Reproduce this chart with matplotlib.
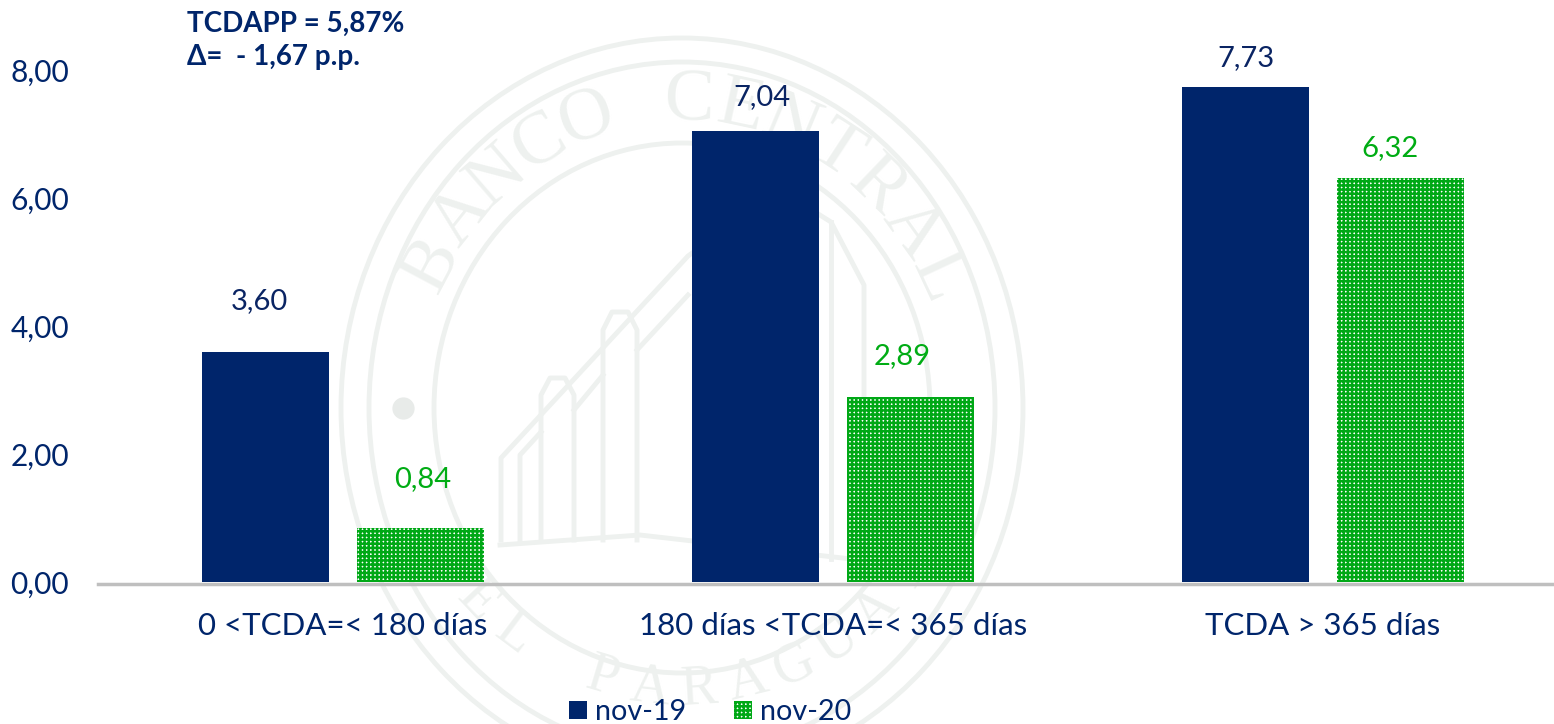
"""
plot.py — Tasa de captación por plazo (TCDA), nov-19 vs nov-20
Run:  python plot.py
"""

import numpy as np
import matplotlib
matplotlib.use('Agg')
import matplotlib.pyplot as plt
from matplotlib.patches import Ellipse, Patch

plt.rcParams['font.family'] = ['Lato', 'DejaVu Sans']
plt.rcParams['hatch.linewidth'] = 1.8

# ── Data ─────────────────────────────────────────────────────────────────────
categories = ['0 <TCDA=< 180 días', '180 días <TCDA=< 365 días', 'TCDA > 365 días']
nov_19 = [3.60, 7.04, 7.73]
nov_20 = [0.84, 2.89, 6.32]
series_names = ['nov-19', 'nov-20']
y_ticks = [0, 2, 4, 6, 8]

NAVY = '#00256B'
GREEN = '#00A816'
LABEL_GREEN = '#00AC14'
MARK = '#EEF1EF'

W, H = 1554, 724
fig = plt.figure(figsize=(W / 100, H / 100), dpi=100)

# ── Watermark (seal), pixel coordinates of the image ─────────────────────────
bg = fig.add_axes([0, 0, 1, 1], zorder=0)
bg.set_xlim(0, W)
bg.set_ylim(H, 0)
bg.axis('off')

cx, cy = 682, 408
for rx, ry, lw in [(341, 370, 3.5), (313, 346, 3.5), (248, 265, 3.5)]:
    bg.add_patch(Ellipse((cx, cy), 2 * rx, 2 * ry, fill=False, ec=MARK, lw=lw))
bg.plot([403], [408], 'o', ms=15, color='#E8EBE9')


def arc_text(txt, a_start, a_end, rx, ry, size, bottom=False):
    for ch, a in zip(txt, np.linspace(a_start, a_end, len(txt))):
        t = np.radians(a)
        x, y = cx + rx * np.cos(t), cy - ry * np.sin(t)
        rot = a - 90 if not bottom else a + 90
        bg.text(x, y, ch, family='Liberation Serif', fontsize=size, color=MARK,
                rotation=rot, rotation_mode='anchor', ha='center', va='center')


arc_text('BANCO CENTRAL', 152, 25, 282, 306, 54)
# kept a bit inside the ring so the letters stay on the canvas
arc_text('DEL PARAGUAY', 213, 324, 280, 282, 40, bottom=True)

building = [
    [(501, 540), (501, 458), (688, 256), (780, 190), (831, 222), (864, 285), (864, 559)],
    [(520, 540), (520, 455), (541, 432)],
    [(541, 540), (541, 395), (550, 378), (565, 378), (574, 395), (574, 540)],
    [(603, 540), (603, 330), (612, 312), (628, 312), (637, 330), (637, 540)],
    [(574, 410), (603, 375)],
    [(637, 350), (688, 295)],
    [(831, 222), (831, 559)],
    [(500, 545), (640, 535), (860, 560)],
]
for pts in building:
    xs, ys = zip(*pts)
    bg.plot(xs, ys, color=MARK, lw=3.5)

# ── Bars ─────────────────────────────────────────────────────────────────────
ax = fig.add_axes([98 / W, 1 - 582 / H, 1470 / W, 512 / H], zorder=1)
ax.patch.set_alpha(0)
x = np.arange(len(categories))
width = 0.259
offset = 0.158

ax.bar(x - offset, nov_19, width, color=NAVY, lw=0, label=series_names[0])
ax.bar(x + offset, nov_20, width, facecolor='white', edgecolor=GREEN, hatch='++++', lw=0,
       label=series_names[1])

ax.set_xlim(-0.5, 2.5)
ax.set_ylim(0, 8)
ax.set_xticks(x, categories)
ax.set_yticks(y_ticks, [f'{v:.2f}'.replace('.', ',') for v in y_ticks])
ax.tick_params(axis='both', length=0, labelcolor=NAVY)
ax.tick_params(axis='x', labelsize=22.5, pad=20)
ax.tick_params(axis='y', labelsize=21.5, pad=21)
for side in ['top', 'right', 'left']:
    ax.spines[side].set_visible(False)
ax.spines['bottom'].set_color('#BFBFBF')
ax.spines['bottom'].set_linewidth(2.5)
ax.spines['bottom'].set_position(('outward', 1.4))

# ── Value labels (they sit at uneven distances from the bars) ────────────────
offs_19 = [(-6, 51), (6, 34), (0, 29)]
offs_20 = [(2, 49), (-8, 41), (-10, 29)]
for i in range(len(categories)):
    ax.annotate(f'{nov_19[i]:.2f}'.replace('.', ','), (x[i] - offset, nov_19[i]),
                xytext=offs_19[i], textcoords='offset pixels', ha='center',
                va='center', fontsize=21, color='#0A2463')
    ax.annotate(f'{nov_20[i]:.2f}'.replace('.', ','), (x[i] + offset, nov_20[i]),
                xytext=offs_20[i], textcoords='offset pixels', ha='center',
                va='center', fontsize=21, color=LABEL_GREEN)

# ── Note and legend ──────────────────────────────────────────────────────────
fig.text(187 / W, 1 - 24 / H, 'TCDAPP = 5,87%', fontsize=20, fontweight='bold',
         color=NAVY, va='center', ha='left')
fig.text(187 / W, 1 - 57 / H, 'Δ=  - 1,67 p.p.', fontsize=20, fontweight='bold',
         color=NAVY, va='center', ha='left')

handles = [Patch(facecolor=NAVY, lw=0),
           Patch(facecolor='white', edgecolor=GREEN, hatch='++++', lw=0)]
fig.legend(handles, series_names, loc='lower left',
           bbox_to_anchor=(543 / W, -27 / H), ncol=2, frameon=False,
           fontsize=20.7, labelcolor=NAVY, handlelength=0.62, handleheight=0.62,
           handletextpad=0.3, columnspacing=1.65)

fig.savefig('out.png', dpi=100)
